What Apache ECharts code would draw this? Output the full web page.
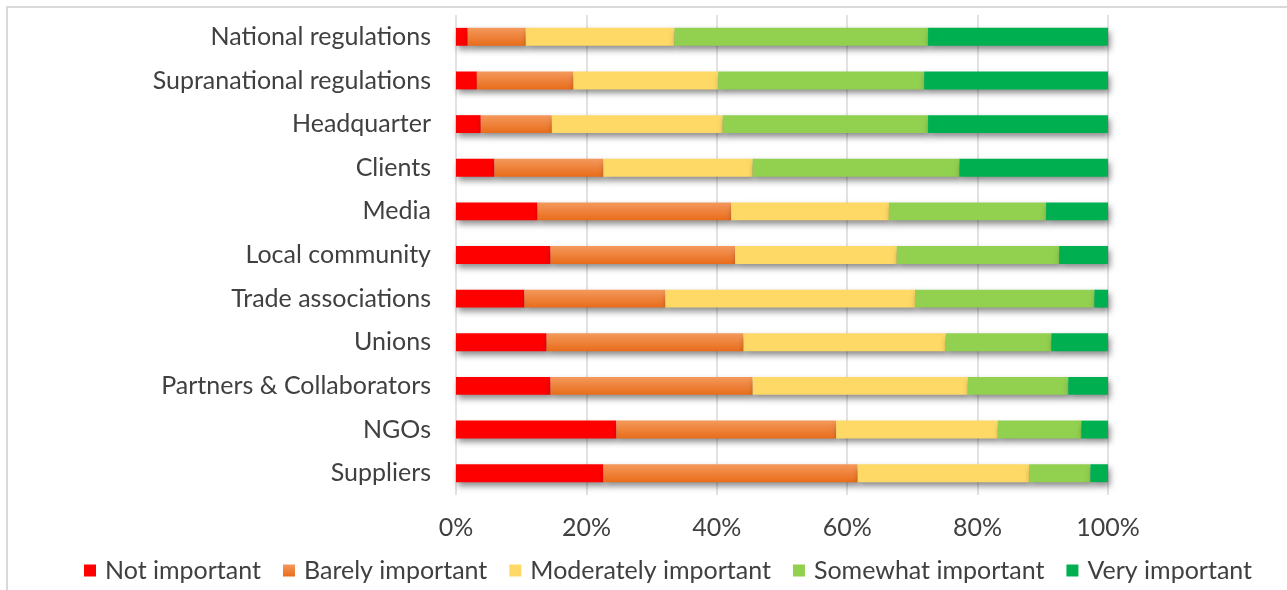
<!DOCTYPE html>
<html>
<head>
<meta charset="utf-8">
<script src="https://cdn.jsdelivr.net/npm/echarts@6/dist/echarts.min.js"></script>
<style>
  html, body { margin: 0; padding: 0; background: #ffffff; }
  #chart { width: 1287px; height: 590px; }
</style>
</head>
<body>
<div id="chart"></div>
<script>
// Stakeholder groups, top to bottom
const categories = [
  'National regulations', 'Supranational regulations', 'Headquarter', 'Clients',
  'Media', 'Local community', 'Trade associations', 'Unions',
  'Partners & Collaborators', 'NGOs', 'Suppliers'
];

// Share of respondents (%) per importance level
const notImportant      = [1.8, 3.2, 3.8, 5.9, 12.5, 14.5, 10.5, 13.9, 14.5, 24.6, 22.6];
const barelyImportant   = [8.9, 14.8, 10.9, 16.7, 29.7, 28.3, 21.6, 30.2, 31.0, 33.7, 39.0];
const moderatelyImp     = [22.8, 22.2, 26.2, 22.9, 24.2, 24.8, 38.3, 31.0, 33.0, 24.8, 26.3];
const somewhatImportant = [38.9, 31.6, 31.5, 31.7, 24.1, 24.9, 27.5, 16.2, 15.4, 12.8, 9.4];
const veryImportant     = [27.6, 28.2, 27.6, 22.8, 9.5, 7.5, 2.1, 8.7, 6.1, 4.1, 2.7];

const seriesNames = ['Not important', 'Barely important', 'Moderately important', 'Somewhat important', 'Very important'];
const seriesData = [notImportant, barelyImportant, moderatelyImp, somewhatImportant, veryImportant];

const xTicks = [0, 20, 40, 60, 80, 100];

const FONT = 'Lato';
const FONT_SIZE = 25;
const TEXT = '#404040';

const orangeGrad = new echarts.graphic.LinearGradient(0, 0, 0, 1, [
  { offset: 0, color: '#F4995C' },
  { offset: 1, color: '#E86C1A' }
]);
const colors = ['#FF0000', orangeGrad, '#FED966', '#92D050', '#00B050'];

const chart = echarts.init(document.getElementById('chart'), null, { renderer: 'canvas' });

chart.setOption({
  animation: false,
  backgroundColor: '#ffffff',
  graphic: [{
    type: 'rect',
    shape: { x: 7, y: 7, width: 1300, height: 620 },
    style: { fill: 'none', stroke: '#D9D9D9', lineWidth: 2 },
    silent: true,
    z: -10
  }],
  grid: { left: 456, right: 179, top: 15, height: 480, containLabel: false },
  legend: {
    bottom: 2,
    left: 79,
    itemWidth: 12,
    itemHeight: 12,
    itemGap: 22,
    icon: 'rect',
    textStyle: { fontFamily: FONT, fontSize: FONT_SIZE, color: TEXT, padding: [0, 0, 0, 4] },
    itemStyle: { shadowBlur: 0, shadowOffsetX: 0, shadowOffsetY: 0, shadowColor: 'transparent' },
    data: seriesNames
  },
  xAxis: {
    type: 'value',
    min: xTicks[0],
    max: xTicks[xTicks.length - 1],
    interval: xTicks[1] - xTicks[0],
    axisLine: { show: false },
    axisTick: { show: false },
    axisLabel: {
      formatter: '{value}%',
      fontFamily: FONT, fontSize: FONT_SIZE, color: TEXT, margin: 20
    },
    splitLine: { show: true, lineStyle: { color: '#D9D9D9', width: 1.5 } }
  },
  yAxis: {
    type: 'category',
    inverse: true,
    data: categories,
    axisLine: { show: false },
    axisTick: { show: false },
    axisLabel: { fontFamily: FONT, fontSize: FONT_SIZE, color: TEXT, margin: 25 }
  },
  series: seriesNames.map((name, i) => ({
    name: name,
    type: 'bar',
    stack: 'total',
    barCategoryGap: '59%',
    data: seriesData[i],
    itemStyle: {
      color: colors[i],
      shadowColor: 'rgba(0,0,0,0.45)',
      shadowBlur: 6,
      shadowOffsetX: 2,
      shadowOffsetY: 4
    }
  }))
});
</script>
</body>
</html>
